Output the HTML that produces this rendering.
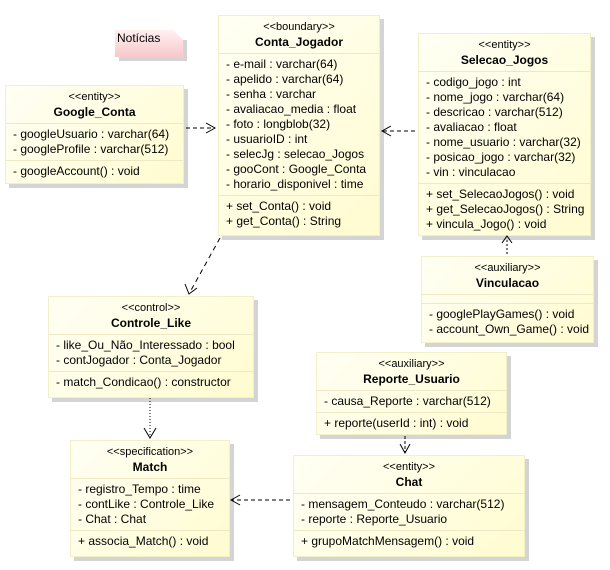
<!DOCTYPE html>
<html><head><meta charset="utf-8"><style>
body{margin:0;width:610px;height:570px;background:#fff;position:relative;font-family:"Liberation Sans",sans-serif;font-size:12px;color:#000;overflow:hidden}
.b{position:absolute;background:linear-gradient(135deg,#fffff4,#fffcd0);box-shadow:4px 4px 0 #d4d4d4;border:1px solid #f3f0c8}
.h{text-align:center;line-height:15px;padding-top:3px;padding-bottom:3px;border-bottom:1px solid #ece9c4}
.h span{font-size:11px}
.h b{font-weight:bold}
.c{padding:3px 7px 3px 7px;line-height:15px;white-space:nowrap;border-bottom:1px solid #ece9c4}
.c:last-child{border-bottom:none}
svg{position:absolute;left:0;top:0}
</style></head><body>
<div style="position:absolute;left:115px;top:30px;width:68px;height:27px;background:linear-gradient(180deg,#fff0f0,#f8c8cc);box-shadow:4px 4px 0 #d4d4d4;clip-path:polygon(0 0,58px 0,68px 10px,72px 10px,72px 31px,0 31px)"></div>
<div style="position:absolute;left:117px;top:32px;line-height:13px">Notícias</div>

<div class="b" style="left:5px;top:85px;width:177px;height:97px">
<div class="h"><span>&lt;&lt;entity&gt;&gt;</span><br><b>Google_Conta</b></div>
<div class="c">- googleUsuario : varchar(64)<br>- googleProfile : varchar(512)</div>
<div class="c">- googleAccount() : void</div></div>

<div class="b" style="left:218px;top:15px;width:160px;height:219px">
<div class="h"><span>&lt;&lt;boundary&gt;&gt;</span><br><b>Conta_Jogador</b></div>
<div class="c">- e-mail : varchar(64)<br>- apelido : varchar(64)<br>- senha : varchar<br>- avaliacao_media : float<br>- foto : longblob(32)<br>- usuarioID : int<br>- selecJg : selecao_Jogos<br>- gooCont : Google_Conta<br>- horario_disponivel : time</div>
<div class="c">+ set_Conta() : void<br>+ get_Conta() : String</div></div>

<div class="b" style="left:418px;top:33px;width:171px;height:201px">
<div class="h"><span>&lt;&lt;entity&gt;&gt;</span><br><b>Selecao_Jogos</b></div>
<div class="c">- codigo_jogo : int<br>- nome_jogo : varchar(64)<br>- descricao : varchar(512)<br>- avaliacao : float<br>- nome_usuario : varchar(32)<br>- posicao_jogo : varchar(32)<br>- vin : vinculacao</div>
<div class="c">+ set_SelecaoJogos() : void<br>+ get_SelecaoJogos() : String<br>+ vincula_Jogo() : void</div></div>

<div class="b" style="left:421px;top:256px;width:171px;height:85px">
<div class="h"><span>&lt;&lt;auxiliary&gt;&gt;</span><br><b>Vinculacao</b></div>
<div class="c" style="height:8px;padding:0"></div>
<div class="c">- googlePlayGames() : void<br>- account_Own_Game() : void</div></div>

<div class="b" style="left:48px;top:296px;width:204px;height:100px">
<div class="h"><span>&lt;&lt;control&gt;&gt;</span><br><b>Controle_Like</b></div>
<div class="c">- like_Ou_Não_Interessado : bool<br>- contJogador : Conta_Jogador</div>
<div class="c">- match_Condicao() : constructor</div></div>

<div class="b" style="left:316px;top:352px;width:189px;height:81px">
<div class="h"><span>&lt;&lt;auxiliary&gt;&gt;</span><br><b>Reporte_Usuario</b></div>
<div class="c">- causa_Reporte : varchar(512)</div>
<div class="c">+ reporte(userId : int) : void</div></div>

<div class="b" style="left:70px;top:440px;width:158px;height:115px">
<div class="h"><span>&lt;&lt;specification&gt;&gt;</span><br><b>Match</b></div>
<div class="c">- registro_Tempo : time<br>- contLike : Controle_Like<br>- Chat : Chat</div>
<div class="c">+ associa_Match() : void</div></div>

<div class="b" style="left:293px;top:455px;width:230px;height:100px">
<div class="h"><span>&lt;&lt;entity&gt;&gt;</span><br><b>Chat</b></div>
<div class="c">- mensagem_Conteudo : varchar(512)<br>- reporte : Reporte_Usuario</div>
<div class="c">+ grupoMatchMensagem() : void</div></div>

<svg width="610" height="570" fill="none" stroke="#000" stroke-width="1">
<path d="M186 128H214" stroke-dasharray="4,3"/><path d="M206 123L215 128L206 133"/>
<path d="M415 131H383" stroke-dasharray="4,3"/><path d="M391 126L382 131L391 136"/>
<path d="M220 238L190 292" stroke-dasharray="5,4"/><path d="M185 284L189 294L197 288"/>
<path d="M507 254V240" stroke-dasharray="2,2"/><path d="M502 243L507 236L512 243"/>
<path d="M150 398V436" stroke-dasharray="1,2"/><path d="M144 428L150 438L156 428"/>
<path d="M405 436V452" stroke-dasharray="3,2"/><path d="M400 444L405 453L410 444"/>
<path d="M290 500H232" stroke-dasharray="4,3"/><path d="M240 495L231 500L240 505"/>
</svg>
</body></html>
